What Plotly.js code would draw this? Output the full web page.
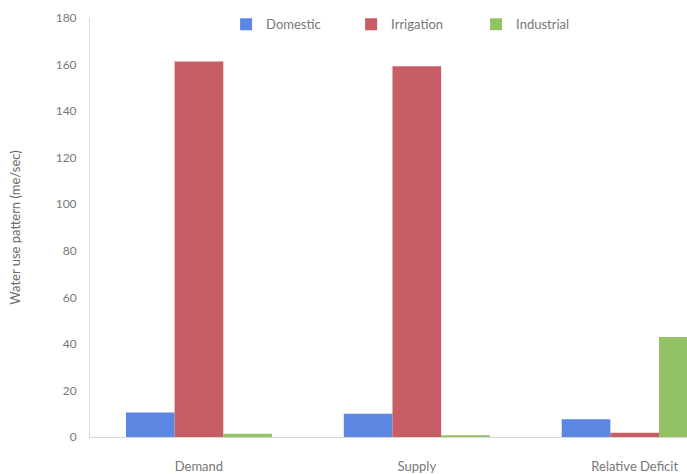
<!DOCTYPE html>
<html>
<head>
<meta charset="utf-8">
<script src="https://cdn.plot.ly/plotly-3.0.1.min.js"></script>
<style>html,body{margin:0;padding:0;background:#fff;overflow:hidden}#chart{width:687px;height:474px}</style>
</head>
<body>
<div id="chart"></div>
<script>
const categories = ["Demand", "Supply", "Relative Deficit"];
const domestic = [10.5, 10, 7.6];
const irrigation = [161.3, 159.3, 1.8];
const industrial = [1.4, 0.8, 43];
const seriesNames = ["Domestic", "Irrigation", "Industrial"];
const yTicks = [0, 20, 40, 60, 80, 100, 120, 140, 160, 180];

const colors = ["#5b87e3", "#c85d65", "#93c264"];
const values = [domestic, irrigation, industrial];
const traces = seriesNames.map((n, i) => ({
  type: "bar", name: n, x: categories, y: values[i],
  marker: {color: colors[i]}
}));

const layout = {
  width: 687, height: 474,
  margin: {l: 90, r: 0, t: 18, b: 37},
  barmode: "group", bargap: 0.33, bargroupgap: 0,
  paper_bgcolor: "#fff", plot_bgcolor: "#fff",
  font: {family: "Lato, 'Open Sans', sans-serif", color: "#777", size: 12},
  showlegend: true,
  legend: {orientation: "h", x: 0.228, y: 0.985, xanchor: "left", yanchor: "middle",
    font: {size: 13, color: "#777"}, itemwidth: 30, entrywidth: 80, tracegroupgap: 0},
  xaxis: {type: "category", range: [-0.5, 2.24], showline: true, linecolor: "#d8d8d8",
    ticks: "", tickfont: {size: 13, color: "#777"}, showgrid: false, zeroline: false,
    ticklabelstandoff: 17},
  yaxis: {range: [0, 180], tickvals: yTicks, ticktext: yTicks.map(String), showline: true,
    linecolor: "#dcdcdc", ticks: "", showgrid: false, zeroline: false,
    tickfont: {size: 12, color: "#777"}, ticklabelstandoff: 10,
    title: {text: "Water use pattern (me/sec)", font: {size: 13, color: "#6a6a6a"}, standoff: 32}}
};
Plotly.newPlot("chart", traces, layout, {displayModeBar: false, staticPlot: true});
</script>
</body>
</html>
